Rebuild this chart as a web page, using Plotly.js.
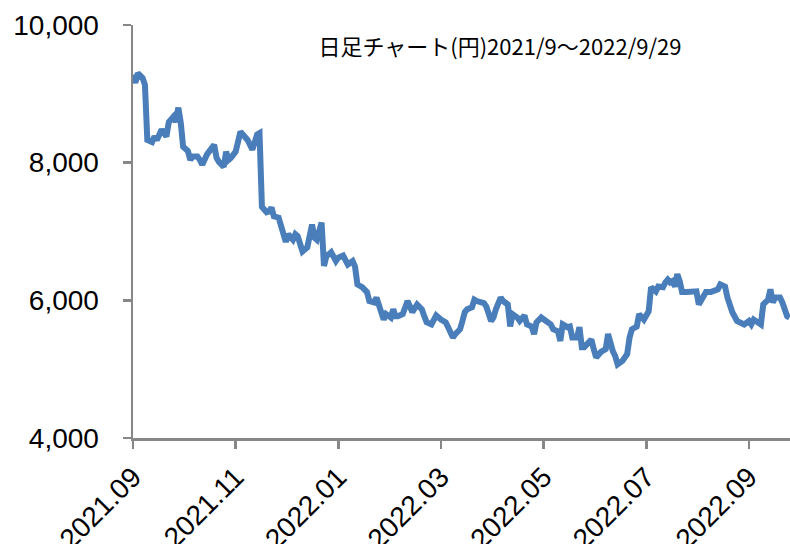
<!DOCTYPE html>
<html>
<head>
<meta charset="utf-8">
<script src="https://cdn.plot.ly/plotly-3.0.1.min.js"></script>
<style>
  html, body { margin: 0; padding: 0; background: #ffffff; }
  #chart { width: 790px; height: 544px; }
</style>
</head>
<body>
<div id="chart"></div>
<script>
// Daily close (yen), indexed by trading day from 2021/9/1
const tradingDay = [
  0, 1, 2, 4, 5, 6, 8, 9, 10, 12, 13, 14, 15, 17, 18, 19, 20, 21, 23, 24,
  25, 27, 28, 29, 31, 32, 34, 35, 36, 38, 39, 40, 41, 43, 44, 45, 46, 48, 50, 51,
  52, 53, 54, 56, 57, 58, 59, 61, 62, 64, 65, 67, 68, 69, 71, 72, 73, 75, 76, 77,
  79, 80, 81, 83, 85, 86, 88, 90, 92, 93, 94, 96, 98, 99, 101, 102, 103, 105, 106, 108,
  109, 110, 111, 113, 115, 116, 117, 119, 121, 122, 123, 125, 127, 129, 131, 132, 134, 135, 137, 138,
  139, 140, 142, 143, 144, 147, 148, 150, 151, 152, 154, 155, 157, 158, 159, 161, 162, 164, 165, 167,
  168, 169, 171, 173, 175, 176, 178, 179, 180, 182, 183, 184, 186, 187, 188, 189, 191, 192, 193, 194,
  196, 198, 199, 200, 201, 202, 203, 205, 207, 208, 209, 211, 212, 214, 215, 216, 217, 219, 220, 222,
  223, 224, 225, 226, 227, 228, 229, 230, 232, 234, 235, 236, 237, 239, 240, 242, 245, 246, 248, 249,
  250, 251, 253, 254, 256, 258, 259, 260, 261, 263, 264, 266, 267, 268, 269, 271, 272, 273, 274, 275
];
const closePrice = [
  9280, 9160, 9300, 9230, 9130, 8330, 8300, 8380, 8330, 8480, 8430, 8380, 8590, 8670, 8590, 8800, 8580, 8230, 8170, 8040,
  8090, 8090, 8040, 7970, 8120, 8160, 8260, 8070, 8010, 7940, 8160, 8040, 8070, 8160, 8330, 8450, 8410, 8330, 8190, 8300,
  8410, 8430, 7360, 7280, 7290, 7350, 7220, 7200, 7070, 6850, 6960, 6880, 6960, 6930, 6710, 6740, 6770, 7100, 6910, 6880,
  7130, 6500, 6640, 6700, 6570, 6620, 6650, 6520, 6570, 6490, 6230, 6190, 6120, 5990, 5970, 6040, 5910, 5720, 5800, 5750,
  5870, 5770, 5770, 5800, 5990, 5910, 5830, 5940, 5870, 5770, 5680, 5650, 5780, 5720, 5680, 5610, 5460, 5510, 5580, 5700,
  5830, 5870, 5900, 6010, 5990, 5960, 5910, 5700, 5750, 5870, 6040, 5990, 5940, 5620, 5800, 5750, 5700, 5780, 5650, 5620,
  5510, 5680, 5750, 5700, 5650, 5580, 5550, 5410, 5650, 5610, 5620, 5460, 5460, 5610, 5320, 5320, 5390, 5430, 5290, 5170,
  5250, 5290, 5510, 5360, 5260, 5190, 5070, 5120, 5220, 5460, 5580, 5620, 5800, 5720, 5770, 5840, 6190, 6130, 6200, 6190,
  6260, 6300, 6260, 6280, 6200, 6380, 6280, 6120, 6120, 6130, 6120, 6130, 5940, 6060, 6120, 6120, 6160, 6230, 6200, 6040,
  5900, 5830, 5700, 5680, 5650, 5700, 5650, 5720, 5700, 5650, 5940, 6010, 6160, 5970, 6040, 6040, 5970, 5840, 5770, 5750
];

// Month labels, one every 43 sessions
const tickDays = [0, 43, 86, 129, 172, 215, 258];
const tickLabels = ['2021.09', '2021.11', '2022.01', '2022.03', '2022.05', '2022.07', '2022.09'];

const priceTicks = [4000, 6000, 8000, 10000];
const chartTitle = '日足チャート(円)2021/9～2022/9/29';

const axisGrey = '#878787';

const trace = {
  x: tradingDay,
  y: closePrice,
  type: 'scatter',
  mode: 'lines',
  line: { color: '#4a7ebb', width: 6, shape: 'linear' },
  hoverinfo: 'skip'
};

const layout = {
  width: 790,
  height: 544,
  margin: { l: 133, r: 0, t: 25, b: 106 },
  paper_bgcolor: '#ffffff',
  plot_bgcolor: '#ffffff',
  showlegend: false,
  title: {
    text: chartTitle,
    font: { family: '"Noto Sans CJK JP", sans-serif', size: 22, color: '#000000' },
    x: 500 / 790,
    xanchor: 'center',
    xref: 'container',
    y: 1 - 47 / 544,
    yanchor: 'middle',
    yref: 'container'
  },
  xaxis: {
    range: [0, 275.2],
    showgrid: false,
    zeroline: false,
    showline: true,
    linecolor: axisGrey,
    linewidth: 2.5,
    ticks: 'outside',
    ticklen: 8,
    tickwidth: 2.5,
    tickcolor: axisGrey,
    tickmode: 'array',
    tickvals: tickDays,
    ticktext: tickLabels,
    tickangle: -45,
    ticklabelstandoff: 1,
    tickfont: { family: '"Liberation Sans", Arial, sans-serif', size: 28, color: '#000000' }
  },
  yaxis: {
    range: [4000, 10000],
    showgrid: false,
    zeroline: false,
    showline: true,
    linecolor: axisGrey,
    linewidth: 2.5,
    ticks: 'outside',
    ticklen: 8,
    tickwidth: 2.5,
    tickcolor: axisGrey,
    tickmode: 'array',
    tickvals: priceTicks,
    tickformat: ',d',
    ticklabelstandoff: 18,
    tickfont: { family: '"Liberation Sans", Arial, sans-serif', size: 28, color: '#000000' }
  }
};

Plotly.newPlot('chart', [trace], layout, { displayModeBar: false, staticPlot: true });
</script>
</body>
</html>
